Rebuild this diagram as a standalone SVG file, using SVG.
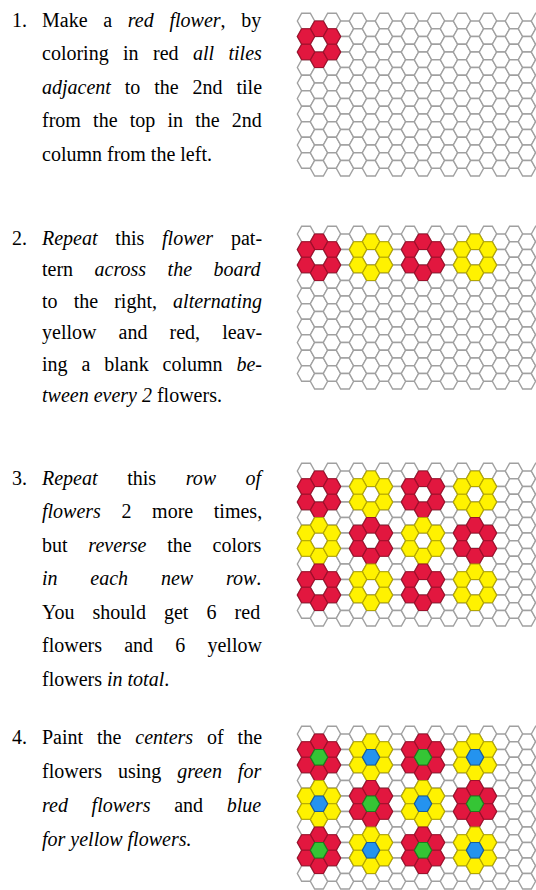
<svg xmlns="http://www.w3.org/2000/svg" width="536" height="890" viewBox="0 0 536 890">
<style>
text{font-family:"Liberation Serif","Times New Roman",serif;font-size:20px;fill:#000}
.i{font-style:italic}
.h{fill:#fff;stroke:#a0a0a0;stroke-width:1.4}
.r{fill:#e2173f;stroke:#9e0f2b;stroke-width:1.2}
.y{fill:#fff200;stroke:#b3a600;stroke-width:1.2}
.g{fill:#35c535;stroke:#1d7d1d;stroke-width:1.2}
.b{fill:#2493ef;stroke:#155e9e;stroke-width:1.2}
</style>
<defs>
<path id="hex" d="M-8.67,0L-4.33,-7.75H4.33L8.67,0L4.33,7.75H-4.33Z"/>
<g id="pair">
<use href="#hex" y="0"/><use href="#hex" y="15.5"/><use href="#hex" y="31"/><use href="#hex" y="46.5"/><use href="#hex" y="62"/><use href="#hex" y="77.5"/><use href="#hex" y="93"/><use href="#hex" y="108.5"/><use href="#hex" y="124"/><use href="#hex" y="139.5"/>
<use href="#hex" x="13" y="7.75"/><use href="#hex" x="13" y="23.25"/><use href="#hex" x="13" y="38.75"/><use href="#hex" x="13" y="54.25"/><use href="#hex" x="13" y="69.75"/><use href="#hex" x="13" y="85.25"/><use href="#hex" x="13" y="100.75"/><use href="#hex" x="13" y="116.25"/><use href="#hex" x="13" y="131.75"/><use href="#hex" x="13" y="147.25"/>
</g>
<g id="board">
<use href="#pair" x="0"/><use href="#pair" x="26"/><use href="#pair" x="52"/><use href="#pair" x="78"/><use href="#pair" x="104"/><use href="#pair" x="130"/><use href="#pair" x="156"/><use href="#pair" x="182"/><use href="#pair" x="208"/><use href="#pair" x="234"/>
</g>
<g id="petals">
<use href="#hex" y="-15.5"/><use href="#hex" y="15.5"/><use href="#hex" x="-13" y="-7.75"/><use href="#hex" x="-13" y="7.75"/><use href="#hex" x="13" y="-7.75"/><use href="#hex" x="13" y="7.75"/>
</g>
</defs>

<g id="step1">
<text x="27" y="26.5" text-anchor="end">1.</text>
<text x="42" y="26.5" style="word-spacing:10.7px">Make a <tspan class="i">red flower</tspan>, by</text>
<text x="42" y="60" style="word-spacing:9.4px">coloring in red <tspan class="i">all tiles</tspan></text>
<text x="42" y="93.5" style="word-spacing:8.9px"><tspan class="i">adjacent</tspan> to the 2nd tile</text>
<text x="42" y="127" style="word-spacing:7.2px">from the top in the 2nd</text>
<text x="42" y="160.5">column from the left.</text>
<g id="board1">
<use href="#board" class="h" transform="translate(306,21)"/>
<use href="#petals" class="r" transform="translate(319,44.25)"/>
</g>
</g>

<g id="step2">
<text x="27" y="244.5" text-anchor="end">2.</text>
<text x="42" y="244.5" style="word-spacing:12.8px"><tspan class="i">Repeat</tspan> this <tspan class="i">flower</tspan> pat-</text>
<text x="42" y="276" style="word-spacing:16.5px">tern <tspan class="i">across the board</tspan></text>
<text x="42" y="307.5" style="word-spacing:11.1px">to the right, <tspan class="i">alternating</tspan></text>
<text x="42" y="339" style="word-spacing:17.1px">yellow and red, leav-</text>
<text x="42" y="370.5" style="word-spacing:8.9px">ing a blank column <tspan class="i">be-</tspan></text>
<text x="42" y="402"><tspan class="i">tween every 2</tspan> flowers.</text>
<g id="board2">
<use href="#board" class="h" transform="translate(306,234)"/>
<use href="#petals" class="r" transform="translate(319,257.25)"/>
<use href="#petals" class="y" transform="translate(371,257.25)"/>
<use href="#petals" class="r" transform="translate(423,257.25)"/>
<use href="#petals" class="y" transform="translate(475,257.25)"/>
</g>
</g>

<g id="step3">
<text x="27" y="484.5" text-anchor="end">3.</text>
<text x="42" y="484.5" style="word-spacing:24.6px"><tspan class="i">Repeat</tspan> this <tspan class="i">row of</tspan></text>
<text x="42" y="518" style="word-spacing:15.6px"><tspan class="i">flowers</tspan> 2 more times,</text>
<text x="42" y="551.5" style="word-spacing:15.8px">but <tspan class="i">reverse</tspan> the colors</text>
<text x="42" y="585" style="word-spacing:27.8px"><tspan class="i">in each new row</tspan>.</text>
<text x="42" y="618.5" style="word-spacing:13.1px">You should get 6 red</text>
<text x="42" y="652" style="word-spacing:17.2px">flowers and 6 yellow</text>
<text x="42" y="685.5">flowers <tspan class="i">in total</tspan>.</text>
<g id="board3">
<use href="#board" class="h" transform="translate(306,471)"/>
<use href="#petals" class="r" transform="translate(319,494.25)"/>
<use href="#petals" class="y" transform="translate(371,494.25)"/>
<use href="#petals" class="r" transform="translate(423,494.25)"/>
<use href="#petals" class="y" transform="translate(475,494.25)"/>
<use href="#petals" class="y" transform="translate(319,540.75)"/>
<use href="#petals" class="r" transform="translate(371,540.75)"/>
<use href="#petals" class="y" transform="translate(423,540.75)"/>
<use href="#petals" class="r" transform="translate(475,540.75)"/>
<use href="#petals" class="r" transform="translate(319,587.25)"/>
<use href="#petals" class="y" transform="translate(371,587.25)"/>
<use href="#petals" class="r" transform="translate(423,587.25)"/>
<use href="#petals" class="y" transform="translate(475,587.25)"/>
</g>
</g>

<g id="step4">
<text x="27" y="743.5" text-anchor="end">4.</text>
<text x="42" y="743.5" style="word-spacing:8.9px">Paint the <tspan class="i">centers</tspan> of the</text>
<text x="42" y="777.5" style="word-spacing:10.9px">flowers using <tspan class="i">green for</tspan></text>
<text x="42" y="811.5" style="word-spacing:18.7px"><tspan class="i">red flowers</tspan> and <tspan class="i">blue</tspan></text>
<text x="42" y="845.5" class="i">for yellow flowers.</text>
<g id="board4">
<use href="#board" class="h" transform="translate(306,734)"/>
<use href="#petals" class="r" transform="translate(319,757.25)"/>
<use href="#petals" class="y" transform="translate(371,757.25)"/>
<use href="#petals" class="r" transform="translate(423,757.25)"/>
<use href="#petals" class="y" transform="translate(475,757.25)"/>
<use href="#petals" class="y" transform="translate(319,803.75)"/>
<use href="#petals" class="r" transform="translate(371,803.75)"/>
<use href="#petals" class="y" transform="translate(423,803.75)"/>
<use href="#petals" class="r" transform="translate(475,803.75)"/>
<use href="#petals" class="r" transform="translate(319,850.25)"/>
<use href="#petals" class="y" transform="translate(371,850.25)"/>
<use href="#petals" class="r" transform="translate(423,850.25)"/>
<use href="#petals" class="y" transform="translate(475,850.25)"/>
<use href="#hex" class="g" x="319" y="757.25"/>
<use href="#hex" class="b" x="371" y="757.25"/>
<use href="#hex" class="g" x="423" y="757.25"/>
<use href="#hex" class="b" x="475" y="757.25"/>
<use href="#hex" class="b" x="319" y="803.75"/>
<use href="#hex" class="g" x="371" y="803.75"/>
<use href="#hex" class="b" x="423" y="803.75"/>
<use href="#hex" class="g" x="475" y="803.75"/>
<use href="#hex" class="g" x="319" y="850.25"/>
<use href="#hex" class="b" x="371" y="850.25"/>
<use href="#hex" class="g" x="423" y="850.25"/>
<use href="#hex" class="b" x="475" y="850.25"/>
</g>
</g>
</svg>
